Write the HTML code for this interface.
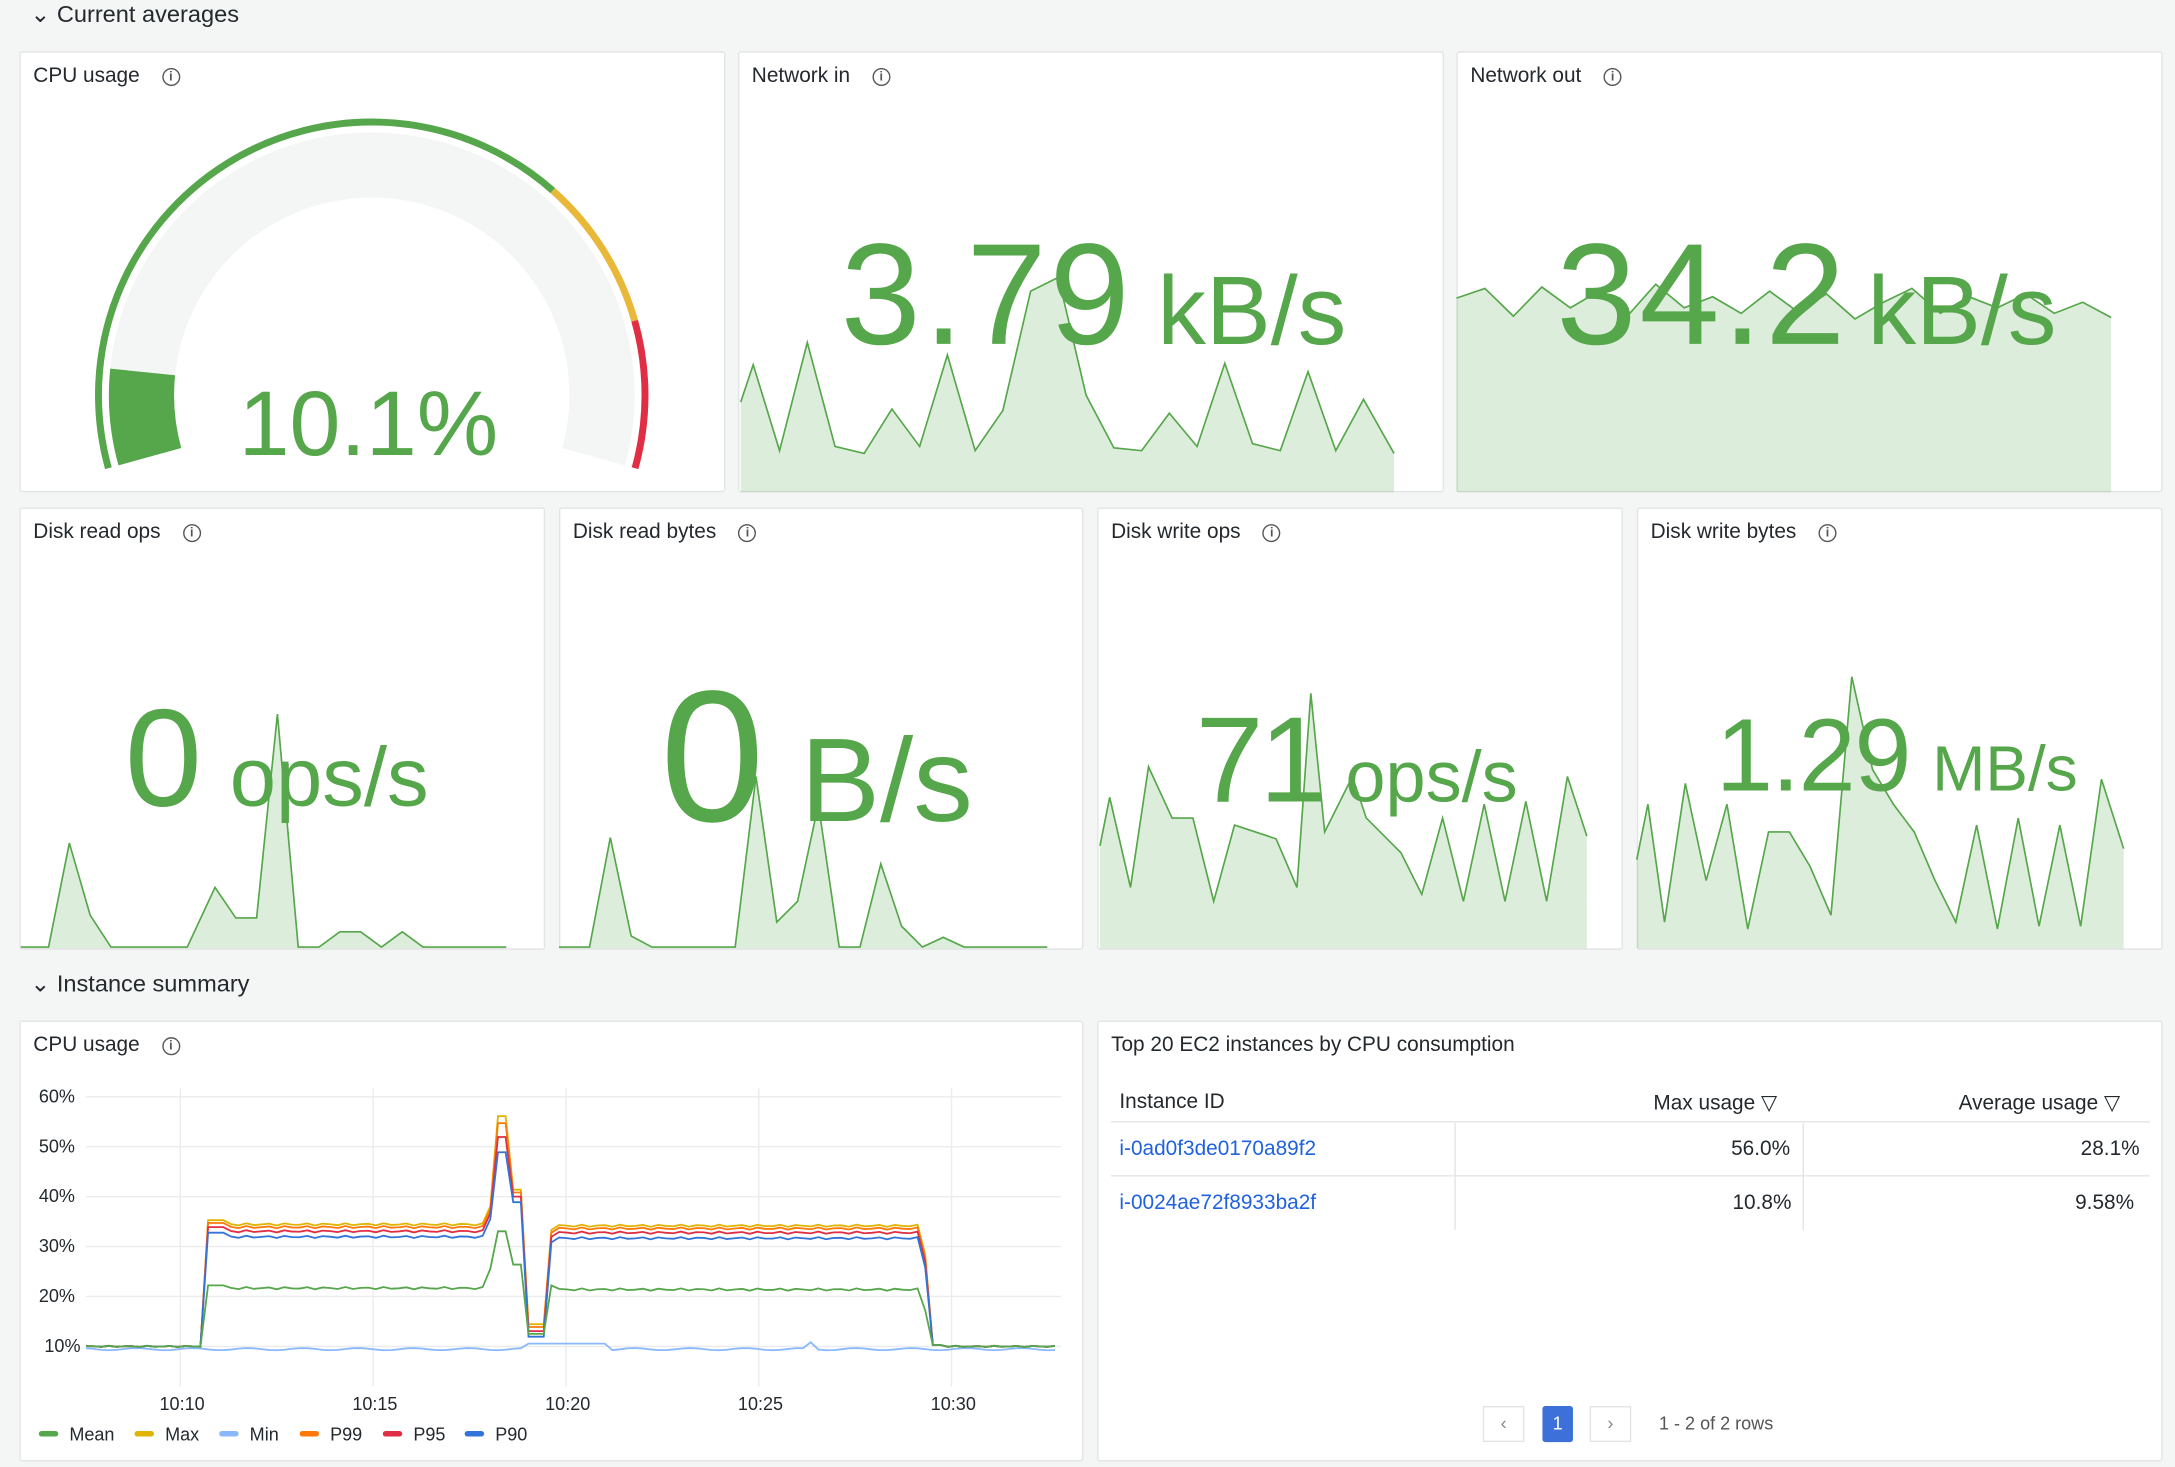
<!DOCTYPE html>
<html><head><meta charset="utf-8">
<style>
html,body{margin:0;padding:0;background:#f4f5f5;overflow:hidden}
#root{position:absolute;left:0;top:0;width:1568px;height:1058px;transform:scale(1.3871,1.3866);transform-origin:0 0;font-family:"Liberation Sans",sans-serif;color:#24292e;background:#f4f5f5}
.p{position:absolute;background:#fff;border:1px solid #e3e4e6;box-sizing:border-box;border-radius:2px;overflow:hidden}
.t{position:absolute;left:9px;top:8px;font-size:15px;color:#24292e}
.i{display:inline-block;width:11px;height:11px;border:1.3px solid #555;border-radius:50%;font-size:9px;line-height:11px;text-align:center;margin-left:16px;vertical-align:1px;font-weight:bold;color:#555}
.sec{position:absolute;left:22px;font-size:17px}
.big{position:absolute;color:#56a64b;white-space:nowrap;line-height:1}
svg{position:absolute;left:0;top:0}
.lg{position:absolute;top:1027px;font-size:13px}
.lg span{display:inline-block;width:14px;height:4px;border-radius:2px;vertical-align:3px;margin-right:8px}
</style></head><body>
<div id="root">
<div class="sec" style="top:1px">&#8964; Current averages</div>
<div class="sec" style="top:700px">&#8964; Instance summary</div>

<div class="p" style="left:14px;top:37px;width:509px;height:318px"><div class="t">CPU usage<span class="i">i</span></div></div>
<div class="p" style="left:532px;top:37px;width:509px;height:318px"><div class="t">Network in<span class="i">i</span></div></div>
<div class="p" style="left:1050px;top:37px;width:509px;height:318px"><div class="t">Network out<span class="i">i</span></div></div>
<div class="p" style="left:14px;top:366px;width:379px;height:319px"><div class="t">Disk read ops<span class="i">i</span></div></div>
<div class="p" style="left:403px;top:366px;width:378px;height:319px"><div class="t">Disk read bytes<span class="i">i</span></div></div>
<div class="p" style="left:791px;top:366px;width:379px;height:319px"><div class="t">Disk write ops<span class="i">i</span></div></div>
<div class="p" style="left:1180px;top:366px;width:379px;height:319px"><div class="t">Disk write bytes<span class="i">i</span></div></div>
<div class="p" style="left:14px;top:736px;width:767px;height:318px"><div class="t">CPU usage<span class="i">i</span></div></div>
<div class="p" style="left:791px;top:736px;width:768px;height:318px"><div class="t">Top 20 EC2 instances by CPU consumption</div></div>

<svg id="s" width="1568" height="1058"></svg>

<div class="big" style="left:172px;top:272px;font-size:66px">10.1%</div>
<div class="big" style="left:606px;top:161px;font-size:104px;letter-spacing:2px">3.79<span style="font-size:70px;letter-spacing:0;margin-left:18px">kB/s</span></div>
<div class="big" style="left:1122px;top:161px;font-size:104px;letter-spacing:2px">34.2<span style="font-size:70px;letter-spacing:0;margin-left:14px">kB/s</span></div>
<div class="big" style="left:90px;top:497px;font-size:100px">0<span style="font-size:60px;margin-left:20px">ops/s</span></div>
<div class="big" style="left:476px;top:478px;font-size:135px;letter-spacing:2px">0<span style="font-size:86px;letter-spacing:0;margin-left:24px">B/s</span></div>
<div class="big" style="left:862px;top:504px;font-size:88px;letter-spacing:-3px">71<span style="font-size:52px;letter-spacing:0;margin-left:16px">ops/s</span></div>
<div class="big" style="left:1237px;top:508px;font-size:74px;letter-spacing:-1px">1.29<span style="font-size:46px;letter-spacing:0;margin-left:16px">MB/s</span></div>

<div style="position:absolute;left:0;top:0;font-size:13px">
<div style="position:absolute;left:28px;top:783px">60%</div>
<div style="position:absolute;left:28px;top:819px">50%</div>
<div style="position:absolute;left:28px;top:855px">40%</div>
<div style="position:absolute;left:28px;top:891px">30%</div>
<div style="position:absolute;left:28px;top:927px">20%</div>
<div style="position:absolute;left:32px;top:963px">10%</div>
<div style="position:absolute;left:115px;top:1005px">10:10</div>
<div style="position:absolute;left:254px;top:1005px">10:15</div>
<div style="position:absolute;left:393px;top:1005px">10:20</div>
<div style="position:absolute;left:532px;top:1005px">10:25</div>
<div style="position:absolute;left:671px;top:1005px">10:30</div>
</div>
<div class="lg" style="left:28px"><span style="background:#56a64b"></span>Mean</div>
<div class="lg" style="left:97px"><span style="background:#e0b400"></span>Max</div>
<div class="lg" style="left:158px"><span style="background:#8ab8ff"></span>Min</div>
<div class="lg" style="left:216px"><span style="background:#ff780a"></span>P99</div>
<div class="lg" style="left:276px"><span style="background:#e02f44"></span>P95</div>
<div class="lg" style="left:335px"><span style="background:#3274d9"></span>P90</div>

<div style="position:absolute;left:807px;top:786px;font-size:15px">Instance ID</div>
<div style="position:absolute;left:1192px;top:786px;font-size:15px">Max usage &#9661;</div>
<div style="position:absolute;left:1412px;top:786px;font-size:15px">Average usage &#9661;</div>
<div style="position:absolute;left:807px;top:820px;font-size:15px;color:#1f62e0">i-0ad0f3de0170a89f2</div>
<div style="position:absolute;left:1248px;top:820px;font-size:15px">56.0%</div>
<div style="position:absolute;left:1500px;top:820px;font-size:15px">28.1%</div>
<div style="position:absolute;left:807px;top:859px;font-size:15px;color:#1f62e0">i-0024ae72f8933ba2f</div>
<div style="position:absolute;left:1249px;top:859px;font-size:15px">10.8%</div>
<div style="position:absolute;left:1496px;top:859px;font-size:15px">9.58%</div>
<div style="position:absolute;left:1069px;top:1014px;width:30px;height:26px;border:1px solid #e3e4e6;box-sizing:border-box;text-align:center;line-height:24px;font-size:13px;color:#888">&#8249;</div>
<div style="position:absolute;left:1112px;top:1014px;width:22px;height:26px;background:#3d71d9;color:#fff;border-radius:2px;text-align:center;line-height:26px;font-size:13px">1</div>
<div style="position:absolute;left:1146px;top:1014px;width:30px;height:26px;border:1px solid #e3e4e6;box-sizing:border-box;text-align:center;line-height:24px;font-size:13px;color:#888">&#8250;</div>
<div style="position:absolute;left:1196px;top:1019px;font-size:13px;color:#555">1 - 2 of 2 rows</div>
</div>
<script>
var s=document.getElementById('s'),h='';
function pt(cx,cy,r,a){a=a*Math.PI/180;return [cx+r*Math.sin(a),cy-r*Math.cos(a)];}
function arc(r,a0,a1,col,w){var p=pt(268,285,r,a0),q=pt(268,285,r,a1);var l=(a1-a0)>180?1:0;
h+='<path d="M'+p[0]+' '+p[1]+' A'+r+' '+r+' 0 '+l+' 1 '+q[0]+' '+q[1]+'" fill="none" stroke="'+col+'" stroke-width="'+w+'"/>';}
arc(166,-105.5,105.5,'#f4f5f5',47);
arc(166,-105.5,-84.2,'#56a64b',47);
arc(197,-105.5,41.5,'#56a64b',5);
arc(197,41.5,74.2,'#eab839',5);
arc(197,74.2,105.5,'#e02f44',5);
function spark(pts,base){var d='M'+pts.map(function(p){return p.join(' ')}).join(' L');
h+='<path d="'+d+' L'+pts[pts.length-1][0]+' '+base+' L'+pts[0][0]+' '+base+'Z" fill="rgba(86,166,75,0.2)"/>';
h+='<path d="'+d+'" fill="none" stroke="#56a64b" stroke-width="1.2"/>';}
spark([[534,290],[543,263],[562,325],[582,247],[602,322],[623,327],[643,295],[663,322],[683,256],[703,325],[723,296],[743,210],[763,200],[783,285],[803,323],[823,325],[843,298],[863,322],[883,262],[903,320],[923,325],[943,268],[963,325],[983,288],[1005,327]],355);
var no=[],ys=[215,208,228,207,222,210,228,205,222,214,226,210,225,212,230,218,208,226,214,222,212,226,218,229];
for(var k=0;k<ys.length;k++)no.push([1050+k*472/(ys.length-1),ys[k]]);spark(no,355);
spark([[15,683],[35,683],[50,608],[65,660],[80,683],[135,683],[155,640],[170,662],[185,662],[200,515],[215,683],[230,683],[245,672],[260,672],[275,683],[290,672],[305,683],[365,683]],684);
spark([[403,683],[425,683],[440,604],[455,675],[470,683],[530,683],[545,560],[560,665],[575,650],[590,580],[605,683],[620,683],[635,623],[650,668],[665,683],[680,676],[695,683],[755,683]],684);
spark([[793,610],[800,575],[815,640],[828,553],[845,590],[860,590],[875,650],[890,595],[905,600],[920,605],[935,640],[945,500],[955,600],[965,580],[975,560],[985,590],[995,600],[1010,615],[1025,645],[1040,590],[1055,650],[1070,580],[1085,650],[1100,578],[1115,650],[1130,560],[1144,603]],684);
spark([[1180,620],[1188,580],[1200,665],[1215,565],[1230,635],[1245,580],[1260,670],[1275,600],[1290,600],[1305,625],[1320,660],[1335,488],[1350,555],[1365,580],[1380,600],[1395,635],[1410,665],[1425,595],[1440,670],[1455,590],[1470,668],[1485,595],[1500,668],[1515,562],[1531,612]],684);
[791,827,863,899,935,971].forEach(function(y){h+='<line x1="62" x2="765" y1="'+y+'" y2="'+y+'" stroke="#ececec"/>';});
[130,269,408,547,686].forEach(function(x){h+='<line x1="'+x+'" x2="'+x+'" y1="785" y2="1000" stroke="#ececec"/>';});
h+='<line x1="801" x2="1550" y1="809" y2="809" stroke="#e3e4e6"/><line x1="801" x2="1550" y1="848" y2="848" stroke="#e3e4e6"/>';
h+='<line x1="1049" x2="1049" y1="810" y2="887" stroke="#e3e4e6"/><line x1="1300" x2="1300" y1="810" y2="887" stroke="#e3e4e6"/>';
function series(off,spk,col,mean){var p=[],x;
for(x=62;x<=765;x+=5.5){var y;var n=Math.sin(x*0.7)*0.8;
if(x<145)y=971+n*0.5;else if(x<150)y=mean?935:900;else if(x<165)y=mean?927:880;
else if(x<352)y=(mean?929:883)+n;else if(x<358)y=mean?915:870;else if(x<368)y=mean?888:spk;
else if(x<378)y=mean?912:858;else if(x<393)y=mean?962:955;else if(x<402)y=mean?927:887;
else if(x<662)y=(mean?930:884)+n;else if(x<670)y=mean?945:905;else if(x<680)y=970;else y=971+n*0.5;
if(!mean&&y<960)y+=off;p.push(x.toFixed(1)+' '+y.toFixed(1));}
h+='<path d="M'+p.join(' L')+'" fill="none" stroke="'+col+'" stroke-width="1.3"/>';}
var mp=[];for(var x=62;x<=765;x+=5.5){var y=973+Math.sin(x*1.3)*0.8;if(x>380&&x<440)y=969;if(x>580&&x<590)y=968;mp.push(x.toFixed(1)+' '+y.toFixed(1));}
h+='<path d="M'+mp.join(' L')+'" fill="none" stroke="#8ab8ff" stroke-width="1.3"/>';
series(0,805,'#e0b400');series(2,808,'#ff780a');series(5,815,'#e02f44');series(9,822,'#3274d9');
series(0,0,'#56a64b',true);
s.innerHTML=h;
</script>
</body></html>
